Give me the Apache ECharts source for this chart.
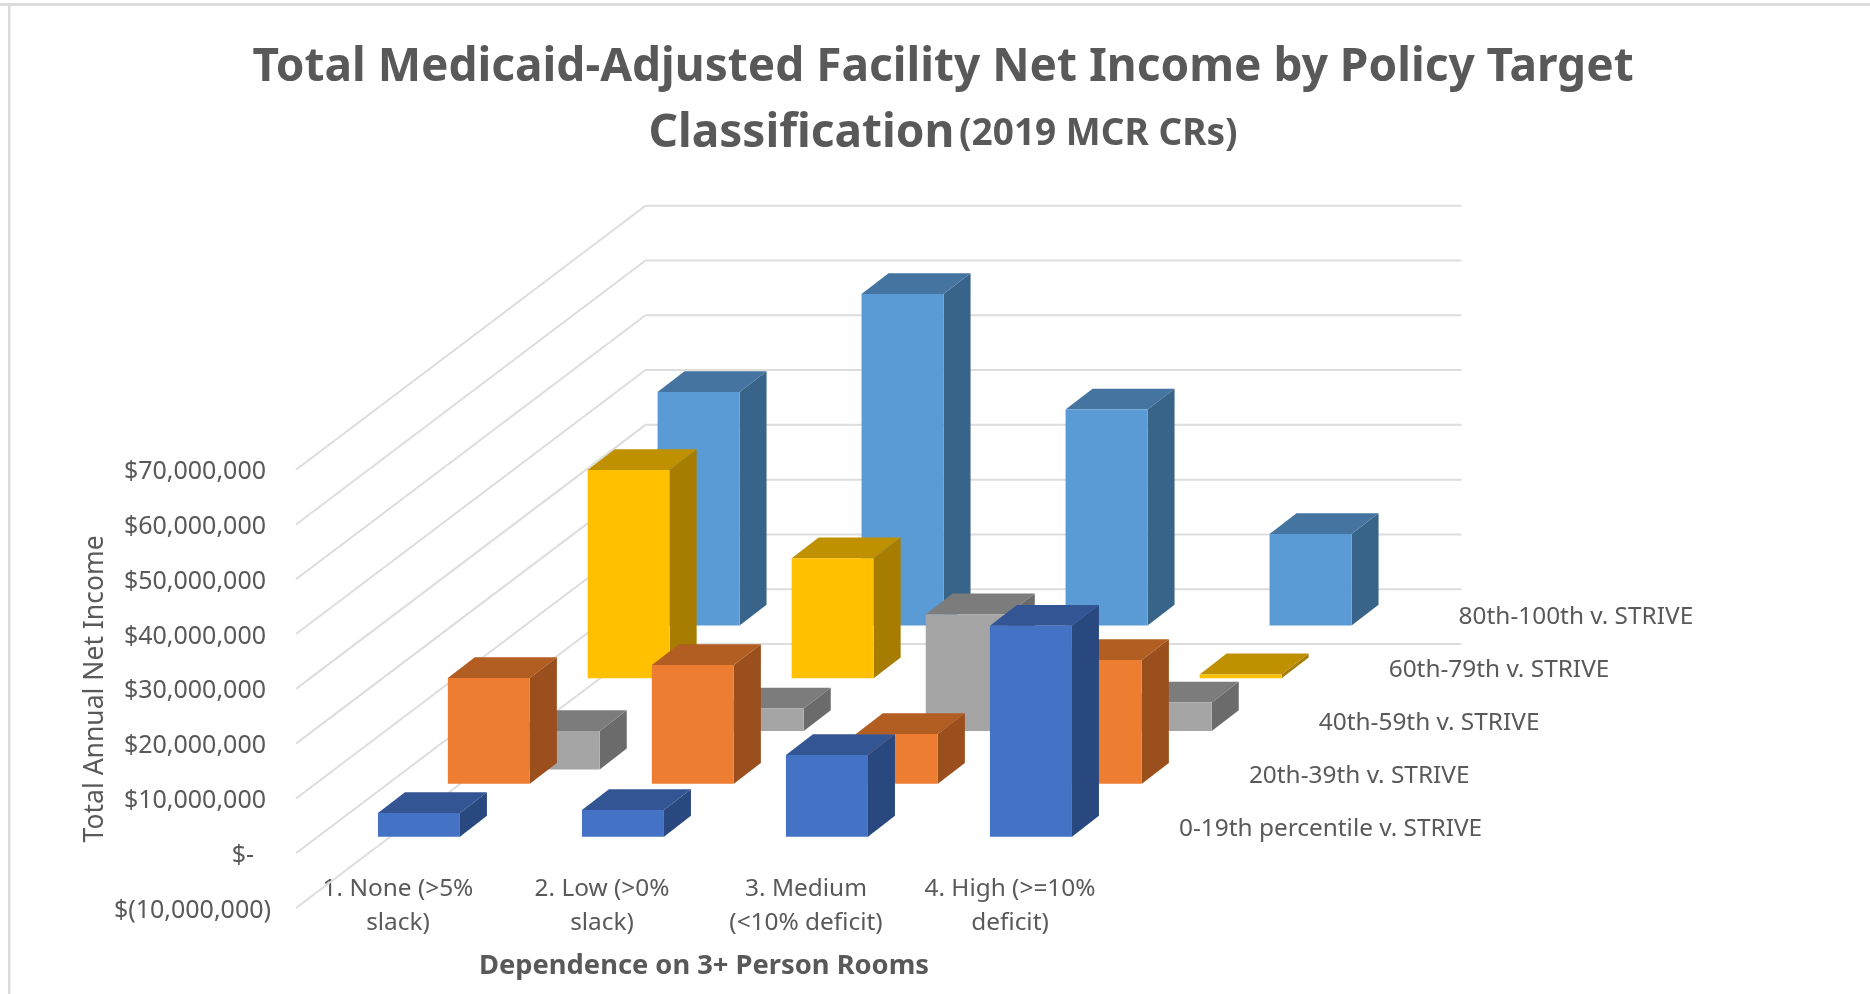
<!DOCTYPE html>
<html lang="en">
<head>
    <meta charset="UTF-8">
    <title>Total Medicaid-Adjusted Facility Net Income</title>
    <script src="https://cdn.jsdelivr.net/npm/echarts@6/dist/echarts.min.js"></script>
    <style>
        html, body { margin: 0; padding: 0; background: #fff; }
        #chart1 { width: 1870px; height: 994px; }
    </style>
</head>
<body>
<div id="chart1"></div>
<script>
    var categories = ['1. None (>5%\nslack)', '2. Low (>0%\nslack)', '3. Medium\n(<10% deficit)', '4. High (>=10%\ndeficit)'];
    var rowNames = ['0-19th percentile v. STRIVE', '20th-39th v. STRIVE', '40th-59th v. STRIVE', '60th-79th v. STRIVE', '80th-100th v. STRIVE'];
    var yTicks = [-10000000, 0, 10000000, 20000000, 30000000, 40000000, 50000000, 60000000, 70000000];
    var yTickLabels = ['$(10,000,000)', '$-', '$10,000,000', '$20,000,000', '$30,000,000', '$40,000,000', '$50,000,000', '$60,000,000', '$70,000,000'];

    var pct0to19 = [4300000, 4850000, 14900000, 38500000];
    var pct20to39 = [19300000, 21700000, 9100000, 22600000];
    var pct40to59 = [-7000000, 4100000, 21300000, 5200000];
    var pct60to79 = [38000000, 21900000, 2000000, 700000];
    var pct80to100 = [42600000, 60500000, 39400000, 16700000];

    var rowValues = [pct0to19, pct20to39, pct40to59, pct60to79, pct80to100];
    var frontColors = ['#4472C4', '#ED7D31', '#A5A5A5', '#FFC000', '#5B9BD5'];
    var topColors = ['#335593', '#B25E22', '#7C7C7C', '#BF9000', '#44749F'];
    var sideColors = ['#2A4880', '#9A4F1D', '#6B6B6B', '#A67D00', '#39648A'];

    // oblique projection, px per depth row
    var rowDx = 69.9, rowDy = 52.8;
    var barWidth = 82, barDx = 27, barDy = 20.8;
    var rowStart = 0.314;
    var textColor = '#595959';
    var fontName = '"Noto Sans", sans-serif';

    function poly(points, color) {
        return { type: 'polygon', shape: { points: points }, style: { fill: color } };
    }

    function renderWall(params, api) {
        var p = api.coord([0, api.value(1)]);
        var x0 = params.coordSys.x;
        var x1 = x0 + rowDx * 5;
        var x2 = x1 + params.coordSys.width;
        var y1 = p[1] - rowDy * 5;
        var style = { stroke: '#DDDDDD', lineWidth: 2, fill: 'none' };
        return {
            type: 'group',
            children: [
                { type: 'line', shape: { x1: x0, y1: p[1], x2: x1, y2: y1 }, style: style },
                { type: 'line', shape: { x1: x1, y1: y1, x2: x2, y2: y1 }, style: style }
            ]
        };
    }

    function makeRenderBar(row) {
        return function (params, api) {
            var v = api.value(1);
            var top = api.coord([api.value(0), Math.max(v, 0)]);
            var bottom = api.coord([api.value(0), Math.min(v, 0)]);
            var off = rowStart + row;
            var l = top[0] + off * rowDx - barWidth / 2 - 1;
            var r = l + barWidth;
            var t = top[1] - off * rowDy;
            var b = bottom[1] - off * rowDy;
            return {
                type: 'group',
                children: [
                    poly([[r, t], [r + barDx, t - barDy], [r + barDx, b - barDy], [r, b]], sideColors[row]),
                    poly([[l, t], [l + barDx, t - barDy], [r + barDx, t - barDy], [r, t]], topColors[row]),
                    poly([[l, t], [r, t], [r, b], [l, b]], frontColors[row])
                ]
            };
        };
    }

    function renderRowName(params, api) {
        var row = params.dataIndex;
        var p = api.coord([0, 0]);
        return {
            type: 'text',
            style: {
                text: rowNames[row],
                x: params.coordSys.x + params.coordSys.width + 67 + row * rowDx,
                y: p[1] - (rowStart + row) * rowDy - 8,
                verticalAlign: 'middle',
                fill: textColor,
                font: '24.4px ' + fontName
            }
        };
    }

    var seriesList = [{
        name: 'walls',
        type: 'custom',
        silent: true,
        clip: false,
        renderItem: renderWall,
        data: yTicks.map(function (v) { return [0, v]; })
    }];
    for (var row = rowValues.length - 1; row >= 0; row--) {
        seriesList.push({
            name: rowNames[row],
            type: 'custom',
            clip: false,
            renderItem: makeRenderBar(row),
            encode: { x: 0, y: 1 },
            data: rowValues[row].map(function (v, i) { return [i, v]; })
        });
    }
    seriesList.push({
        name: 'depth axis',
        type: 'custom',
        silent: true,
        clip: false,
        renderItem: renderRowName,
        data: rowNames.map(function (n, i) { return [0, 0]; })
    });

    var myChart = echarts.init(document.getElementById('chart1'));
    var option1 = {
        animation: false,
        backgroundColor: '#fff',
        textStyle: { fontFamily: fontName },
        title: {
            left: 938,
            top: 30,
            textAlign: 'center',
            text: '{a|Total Medicaid-Adjusted Facility Net Income by Policy Target}\n{a|Classification} {b|(2019 MCR CRs)}',
            textStyle: {
                rich: {
                    a: { fontFamily: fontName, fontSize: 46, fontWeight: 'bold', color: textColor, lineHeight: 66 },
                    b: { fontFamily: fontName, fontSize: 37, fontWeight: 'bold', color: textColor, lineHeight: 66 }
                }
            }
        },
        graphic: [
            { type: 'rect', shape: { x: 0, y: 3, width: 1870, height: 3 }, style: { fill: '#DCDCDC' } },
            { type: 'rect', shape: { x: 8, y: 3, width: 2.5, height: 991 }, style: { fill: '#DCDCDC' } }
        ],
        grid: { left: 296, top: 469.7, width: 816, height: 438.3 },
        xAxis: {
            type: 'category',
            data: categories,
            name: 'Dependence on 3+ Person Rooms',
            nameLocation: 'middle',
            nameGap: 45,
            nameTextStyle: { color: textColor, fontSize: 27.3, fontWeight: 'bold', fontFamily: fontName },
            axisLine: { show: false },
            axisTick: { show: false },
            axisLabel: { color: textColor, fontSize: 24.4, lineHeight: 34, margin: -36, interval: 0, fontFamily: fontName }
        },
        yAxis: {
            type: 'value',
            min: -10000000,
            max: 70000000,
            interval: 10000000,
            name: 'Total Annual Net Income',
            nameLocation: 'middle',
            nameGap: 187,
            nameTextStyle: { color: textColor, fontSize: 26.5, fontFamily: fontName },
            axisLine: { show: false },
            axisTick: { show: false },
            splitLine: { show: false },
            axisLabel: {
                margin: 25,
                formatter: function (value) {
                    var text = yTickLabels[yTicks.indexOf(value)];
                    if (value < 0) return '{n|' + text + '}';
                    if (value === 0) return '{z|' + text + '}';
                    return '{p|' + text + '}';
                },
                rich: {
                    n: { color: textColor, fontSize: 25, fontFamily: fontName, padding: [5, 0, 0, 0] },
                    z: { color: textColor, fontSize: 25, fontFamily: fontName, padding: [5, 17, 0, 0] },
                    p: { color: textColor, fontSize: 25, fontFamily: fontName, padding: [5, 5, 0, 0] }
                }
            }
        },
        series: seriesList
    };
    myChart.setOption(option1);
</script>
</body>
</html>
